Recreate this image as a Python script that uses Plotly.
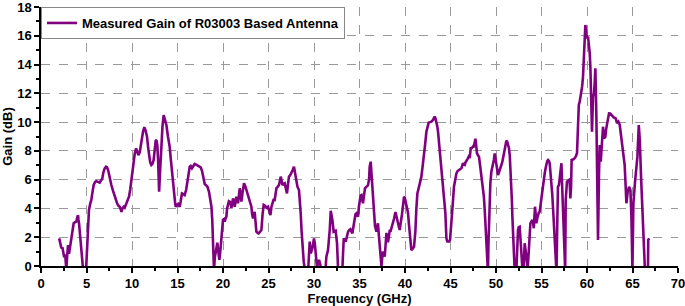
import plotly.graph_objects as go

freq_ghz = [
    2.0, 2.1, 2.24, 2.35, 2.42, 2.55, 2.65, 2.78, 2.9, 2.97, 3.08, 3.2, 3.34, 3.45, 3.59, 3.75, 3.89, 3.95, 4.07, 4.12,
    4.18, 4.3, 4.44, 4.55, 4.62, 4.8, 4.95, 5.05, 5.15, 5.27, 5.4, 5.53, 5.65, 5.79, 5.95, 6.08, 6.25, 6.45, 6.6, 6.74,
    6.85, 7.0, 7.15, 7.26, 7.38, 7.48, 7.6, 7.73, 7.9, 8.1, 8.25, 8.36, 8.5, 8.65, 8.75, 8.84, 8.95, 9.09, 9.2, 9.38,
    9.55, 9.67, 9.8, 9.93, 10.05, 10.19, 10.3, 10.45, 10.58, 10.7, 10.85, 10.95, 11.1, 11.21, 11.35, 11.48, 11.65, 11.78, 11.87, 12.0,
    12.13, 12.25, 12.38, 12.5, 12.6, 12.68, 12.78, 12.86, 12.93, 12.98, 13.08, 13.2, 13.35, 13.48, 13.55, 13.78, 13.95, 14.14, 14.27, 14.4,
    14.5, 14.62, 14.72, 14.8, 14.93, 15.06, 15.15, 15.24, 15.35, 15.49, 15.65, 15.79, 15.95, 16.09, 16.2, 16.34, 16.45, 16.59, 16.75, 16.89,
    17.05, 17.25, 17.4, 17.55, 17.7, 17.8, 17.9, 17.99, 18.15, 18.29, 18.46, 18.6, 18.73, 18.82, 18.9, 18.97, 19.01, 19.1, 19.2, 19.3,
    19.38, 19.45, 19.53, 19.6, 19.7, 19.82, 19.9, 20.0, 20.1, 20.19, 20.28, 20.37, 20.45, 20.55, 20.65, 20.74, 20.85, 20.92, 21.0, 21.1,
    21.2, 21.29, 21.38, 21.47, 21.56, 21.65, 21.75, 21.84, 21.93, 22.02, 22.15, 22.31, 22.45, 22.57, 22.7, 22.82, 22.95, 23.12, 23.2, 23.3,
    23.4, 23.48, 23.57, 23.67, 23.8, 23.92, 24.08, 24.22, 24.35, 24.47, 24.58, 24.69, 24.82, 24.95, 25.08, 25.21, 25.32, 25.43, 25.55, 25.68,
    25.78, 25.87, 26.0, 26.15, 26.25, 26.34, 26.45, 26.53, 26.65, 26.78, 26.9, 27.03, 27.13, 27.25, 27.38, 27.52, 27.65, 27.8, 27.9, 27.99,
    28.09, 28.18, 28.35, 28.45, 28.54, 28.63, 28.73, 28.87, 29.05, 29.34, 29.45, 29.53, 29.64, 29.73, 29.82, 29.92, 30.0, 30.1, 30.19, 30.33,
    30.45, 30.55, 30.7, 30.8, 31.2, 31.36, 31.54, 31.65, 31.73, 31.84, 31.93, 32.02, 32.16, 32.28, 32.38, 32.53, 32.64, 32.9, 33.12, 33.2,
    33.27, 33.38, 33.48, 33.6, 33.74, 33.88, 34.0, 34.1, 34.22, 34.35, 34.47, 34.56, 34.66, 34.75, 34.84, 34.93, 35.02, 35.12, 35.21, 35.3,
    35.38, 35.5, 35.6, 35.75, 35.93, 36.05, 36.12, 36.23, 36.3, 36.37, 36.45, 36.6, 36.7, 36.86, 36.95, 37.03, 37.12, 37.22, 37.32, 37.41,
    37.5, 37.58, 37.67, 37.77, 37.87, 37.96, 38.05, 38.13, 38.22, 38.32, 38.43, 38.55, 38.68, 38.8, 38.95, 39.05, 39.16, 39.3, 39.42, 39.55,
    39.67, 39.78, 39.89, 39.97, 40.05, 40.15, 40.25, 40.33, 40.42, 40.52, 40.6, 40.7, 40.85, 40.99, 41.07, 41.14, 41.25, 41.36, 41.5, 41.62,
    41.72, 41.8, 41.95, 42.09, 42.22, 42.35, 42.48, 42.6, 42.75, 42.9, 43.08, 43.18, 43.26, 43.35, 43.45, 43.55, 43.63, 43.72, 43.81, 43.95,
    44.07, 44.18, 44.29, 44.37, 44.44, 44.5, 44.55, 44.65, 44.73, 44.85, 44.95, 45.05, 45.16, 45.27, 45.38, 45.5, 45.65, 45.78, 45.9, 46.05,
    46.2, 46.3, 46.37, 46.47, 46.56, 46.65, 46.75, 46.88, 47.0, 47.11, 47.22, 47.35, 47.47, 47.55, 47.66, 47.74, 47.82, 47.91, 48.02, 48.13,
    48.27, 48.4, 48.5, 48.57, 48.67, 48.76, 48.82, 48.87, 48.94, 49.01, 49.12, 49.17, 49.23, 49.3, 49.38, 49.49, 49.58, 49.67, 49.77, 49.86,
    49.95, 50.04, 50.13, 50.22, 50.32, 50.41, 50.5, 50.59, 50.68, 50.77, 50.87, 50.96, 51.05, 51.14, 51.23, 51.32, 51.42, 51.51, 51.6, 51.69,
    51.75, 51.8, 51.88, 51.95, 52.1, 52.24, 52.32, 52.42, 52.5, 52.6, 52.7, 52.79, 52.9, 53.03, 53.15, 53.25, 53.34, 53.48, 53.63, 53.7,
    53.78, 53.9, 54.0, 54.08, 54.15, 54.22, 54.29, 54.36, 54.44, 54.53, 54.62, 54.7, 54.8, 54.9, 54.99, 55.08, 55.17, 55.26, 55.35, 55.45,
    55.54, 55.63, 55.72, 55.81, 55.9, 56.0, 56.09, 56.18, 56.26, 56.35, 56.45, 56.55, 56.65, 56.72, 56.81, 56.92, 57.0, 57.08, 57.19, 57.3,
    57.44, 57.53, 57.6, 57.66, 57.8, 57.9, 58.02, 58.1, 58.17, 58.25, 58.31, 58.42, 58.53, 58.65, 58.76, 58.9, 59.01, 59.1, 59.2, 59.38,
    59.47, 59.56, 59.67, 59.75, 59.82, 59.9, 60.0, 60.11, 60.22, 60.3, 60.37, 60.48, 60.55, 60.66, 60.77, 60.85, 60.92, 61.03, 61.14, 61.21,
    61.32, 61.4, 61.51, 61.65, 61.76, 61.87, 62.02, 62.1, 62.2, 62.3, 62.42, 62.55, 62.68, 62.8, 62.93, 63.05, 63.15, 63.3, 63.45, 63.6,
    63.7, 63.78, 63.96, 64.05, 64.14, 64.25, 64.33, 64.47, 64.62, 64.77, 64.88, 64.99, 65.1, 65.28, 65.43, 65.54, 65.69, 65.8, 65.94, 66.1,
    66.24, 66.36, 66.55, 66.7, 66.73, 66.84,
]

gain_db = [
    1.92, 1.6, 1.23, 1.3, 1.0, 0.6, 0.8, -0.2, 0.9, 1.46, 0.85, 1.4, 1.8, 2.4, 2.97, 3.05, 3.1, 3.3, 3.54, 3.2,
    2.97, 2.1, 1.11, 0.3, -0.5, -1.5, -0.3, 1.0, 2.8, 3.89, 4.3, 4.59, 5.1, 5.63, 5.85, 5.9, 5.85, 5.79, 5.95, 6.09,
    6.5, 6.79, 6.9, 6.86, 6.65, 6.32, 5.9, 5.63, 5.25, 4.82, 4.6, 4.36, 4.2, 4.12, 3.95, 3.77, 4.0, 4.12, 4.05, 4.36,
    4.6, 4.82, 5.3, 5.98, 6.7, 7.37, 7.8, 8.18, 7.9, 7.71, 7.9, 8.2, 8.9, 9.33, 9.65, 9.45, 8.99, 8.2, 7.6, 7.2,
    7.02, 7.1, 7.37, 8.2, 8.7, 8.76, 8.4, 7.5, 5.5, 5.16, 6.5, 8.2, 9.7, 10.49, 10.3, 9.8, 9.0, 8.29, 7.4, 6.44,
    5.7, 5.05, 4.5, 4.12, 4.25, 4.31, 4.2, 4.12, 4.5, 5.05, 5.0, 4.93, 5.3, 5.75, 6.3, 6.9, 6.95, 6.79, 6.95, 7.09,
    7.05, 6.95, 6.92, 6.86, 6.6, 6.32, 5.9, 5.7, 5.6, 5.51, 5.16, 4.7, 4.12, 3.2, 2.04, 0.5, -0.3, 0.6, 1.11, 1.4,
    1.62, 1.2, 0.76, 0.42, 1.0, 1.81, 2.6, 3.2, 3.25, 3.08, 3.3, 3.43, 4.0, 4.36, 4.5, 4.47, 4.3, 4.01, 4.4, 4.7,
    4.5, 4.12, 4.5, 4.82, 4.6, 4.36, 4.9, 5.4, 5.0, 4.47, 5.1, 5.75, 5.55, 5.28, 5.05, 4.82, 4.5, 4.12, 3.6, 3.31,
    3.5, 3.77, 3.1, 2.38, 2.3, 2.27, 2.38, 2.5, 3.6, 4.24, 4.2, 4.12, 4.05, 4.12, 3.9, 3.54, 4.1, 4.47, 4.6, 4.59,
    5.0, 5.4, 5.5, 5.63, 5.9, 6.21, 5.9, 5.63, 5.7, 5.75, 5.4, 5.05, 5.6, 6.21, 6.3, 6.44, 6.65, 6.9, 6.6, 6.21,
    5.8, 5.51, 5.28, 4.6, 3.66, 2.5, 1.34, 0.3, -0.5, -0.5, 0.8, 1.69, 0.88, 1.0, 1.23, 1.6, 1.92, 1.5, 1.0, -0.1,
    0.2, 0.42, 0.07, -0.8, -0.8, 0.65, 1.11, 1.8, 2.5, 3.84, 3.6, 3.2, 2.38, 2.4, 2.45, 1.58, -0.1, -1.0, -0.2, 1.0,
    1.92, 1.8, 1.69, 2.0, 2.38, 2.5, 2.55, 2.4, 2.27, 2.8, 3.43, 3.6, 3.66, 3.5, 3.43, 4.1, 4.7, 4.9, 4.93, 4.6,
    4.36, 4.9, 5.4, 5.5, 5.6, 6.0, 6.9, 7.25, 6.5, 5.6, 4.8, 3.08, 2.8, 2.38, 2.7, 2.97, 2.2, 1.34, 0.6, 0.0,
    0.6, 1.0, 0.9, 0.65, 1.5, 2.3, 2.0, 1.65, 2.0, 2.45, 2.45, 2.7, 3.0, 3.3, 3.75, 3.4, 3.08, 2.8, 2.5, 3.0,
    3.6, 4.2, 4.82, 4.75, 4.5, 4.2, 3.9, 3.7, 3.0, 2.27, 1.6, 1.11, 1.2, 1.34, 1.9, 2.4, 4.0, 5.05, 5.4, 5.69,
    5.95, 6.21, 7.0, 7.6, 8.5, 9.33, 9.7, 9.96, 10.0, 10.03, 10.15, 10.3, 10.38, 10.25, 10.03, 9.7, 9.33, 8.7, 8.06, 7.2,
    6.44, 5.8, 5.05, 4.3, 3.66, 2.7, 1.92, 1.7, 1.69, 1.7, 1.81, 2.5, 3.43, 4.5, 5.51, 6.0, 6.44, 6.6, 6.67, 6.7,
    6.79, 7.0, 7.14, 7.05, 7.02, 7.2, 7.37, 7.45, 7.6, 7.5, 8.18, 8.2, 8.3, 8.25, 8.6, 8.85, 8.4, 7.83, 7.7, 7.6,
    6.9, 6.21, 5.8, 5.51, 4.8, 3.89, 3.0, 1.81, 0.8, -0.3, -0.5, 1.5, 3.2, 4.5, 5.75, 6.55, 6.8, 7.02, 7.4, 7.83,
    7.4, 6.9, 6.5, 6.32, 6.5, 6.67, 6.75, 6.9, 7.2, 7.48, 7.9, 8.29, 8.5, 8.71, 8.65, 8.48, 8.2, 7.71, 6.8, 5.51,
    4.5, 3.43, 1.5, -0.2, -1.0, -0.3, 1.2, 2.5, 2.7, 2.73, 1.8, 0.88, -0.2, -0.3, 1.58, 1.1, 0.65, -0.2, 1.34, 2.2,
    2.97, 3.1, 3.2, 3.0, 2.62, 3.4, 4.12, 3.6, 2.97, 3.3, 3.66, 3.7, 3.77, 4.3, 4.82, 5.2, 5.51, 6.0, 6.44, 6.8,
    7.14, 7.3, 7.37, 7.3, 7.14, 6.5, 5.75, 5.0, 4.12, 2.8, 1.34, -0.2, -0.5, 2.5, 5.51, 5.63, 6.0, 6.44, 7.14, 5.0,
    3.2, 1.0, -0.3, 4.59, 5.86, 5.9, 5.98, 5.8, 4.7, 5.5, 7.37, 7.4, 7.41, 7.5, 7.6, 7.83, 10.84, 11.2, 11.42, 12.0,
    12.5, 13.15, 15.01, 16.0, 16.75, 16.3, 15.82, 15.94, 15.48, 14.8, 13.85, 10.84, 9.33, 11.77, 12.0, 12.8, 13.74, 10.38, 6.21, 1.81,
    6.44, 8.41, 7.25, 8.52, 9.68, 8.87, 8.99, 9.5, 9.92, 10.3, 10.61, 10.6, 10.49, 10.4, 10.33, 10.3, 10.26, 9.92, 10.03, 9.8,
    9.3, 8.76, 8.06, 7.5, 7.02, 5.51, 4.36, 5.16, 5.51, 5.28, 3.43, -0.2, 4.36, 5.86, 6.67, 7.6, 9.8, 8.76, 6.21, 3.66,
    1.11, -0.2, -0.5, -0.2, 1.81, 1.92,
]

series_name = "Measured Gain of R03003 Based Antenna"
x_title = "Frequency (GHz)"
y_title = "Gain (dB)"

FONT = "Liberation Sans, Arial, sans-serif"

fig = go.Figure()
fig.add_trace(go.Scatter(
    x=freq_ghz, y=gain_db, mode="lines", name=series_name,
    line=dict(color="#800080", width=2.6),
))

fig.update_layout(
    width=685, height=306,
    margin=dict(l=41, r=7, t=7, b=40, pad=0),
    paper_bgcolor="white", plot_bgcolor="white",
    showlegend=True,
    legend=dict(
        x=0, y=1.0, xanchor="left", yanchor="top",
        bgcolor="white", bordercolor="#888888", borderwidth=1,
        font=dict(family=FONT, size=13, color="black", weight="bold"),
        itemwidth=30, tracegroupgap=0,
    ),
    font=dict(family=FONT, color="black"),
)

fig.update_xaxes(
    range=[0, 70], dtick=5, tick0=0, automargin=False,
    showline=True, linecolor="black", linewidth=1.5,
    ticks="outside", ticklen=5, tickwidth=1.5, tickcolor="black",
    tickfont=dict(family=FONT, size=13, color="black", weight="bold"),
    ticklabeloverflow="allow",
    showgrid=True, gridcolor="#9a9a9a", griddash="dash", gridwidth=1,
    minor=dict(ticks="outside", dtick=2.5, ticklen=3, tickcolor="black", showgrid=False),
    zeroline=False,
    title=dict(text=x_title, font=dict(family=FONT, size=13, color="black", weight="bold"), standoff=4),
)
fig.update_yaxes(
    range=[0, 18], dtick=2, tick0=0, automargin=False,
    showline=True, linecolor="black", linewidth=1.5,
    ticks="outside", ticklen=5, tickwidth=1.5, tickcolor="black",
    tickfont=dict(family=FONT, size=13, color="black", weight="bold"),
    ticklabeloverflow="allow",
    showgrid=True, gridcolor="#9a9a9a", griddash="dash", gridwidth=1,
    minor=dict(ticks="outside", dtick=1, ticklen=3, tickcolor="black", showgrid=False),
    zeroline=False,
    title=dict(text=y_title, font=dict(family=FONT, size=13, color="black", weight="bold"), standoff=2),
)

fig.write_html(
    "out.html",
    config={"displayModeBar": False},
    post_script="document.body.style.margin='0';document.body.style.padding='0';document.body.style.overflow='hidden';",
)
